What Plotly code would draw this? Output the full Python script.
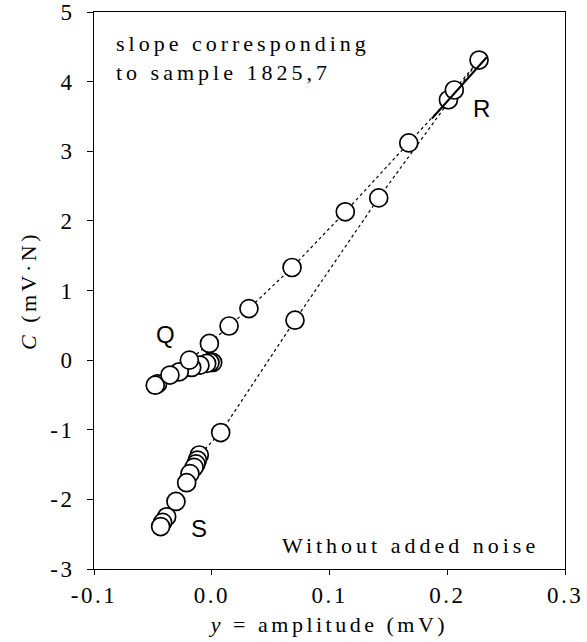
import plotly.graph_objects as go

# time-ordered QRS loop points (x = amplitude mV, y = C mV·N)
amp = [0.0008, -0.0015, -0.0043, -0.010, -0.017, -0.0276, -0.046, -0.048,
       -0.0355, -0.019, -0.002, 0.0147, 0.0316, 0.0682, 0.1134, 0.1673,
       0.201, 0.206, 0.227,
       0.1418, 0.0707, 0.0076, -0.0106, -0.0122, -0.0134, -0.015, -0.0185,
       -0.0213, -0.0304, -0.0383, -0.0417, -0.0434]
cval = [-0.033, -0.033, -0.047, -0.072, -0.105, -0.168, -0.34, -0.36,
        -0.215, 0.0, 0.24, 0.49, 0.74, 1.33, 2.13, 3.12,
        3.74, 3.88, 4.31,
        2.33, 0.574, -1.04, -1.363, -1.435, -1.49, -1.54, -1.63,
        -1.76, -2.03, -2.25, -2.33, -2.39]

slope_x = [0.187, 0.2335]
slope_y = [3.47, 4.35]

xtick_vals = [-0.1, 0.0, 0.1, 0.2, 0.3]
xtick_text = ["-0.1", "0.0", "0.1", "0.2", "0.3"]
ytick_vals = [-3, -2, -1, 0, 1, 2, 3, 4, 5]
ytick_text = ["-3", "-2", "-1", "0", "1", "2", "3", "4", "5"]

labels = ["Q", "R", "S"]
label_x = [-0.038, 0.231, -0.009]
label_y = [0.37, 3.61, -2.42]

serif = "Liberation Serif, Times New Roman, serif"
sans = "Liberation Sans, Arial, sans-serif"

fig = go.Figure()
fig.add_trace(go.Scatter(
    x=amp, y=cval, mode="lines+markers",
    line=dict(color="black", width=1.2, dash="dot"),
    marker=dict(symbol="circle", size=18, color="white",
                line=dict(color="black", width=1.7)),
    showlegend=False, hoverinfo="skip"))
fig.add_trace(go.Scatter(
    x=slope_x, y=slope_y, mode="lines",
    line=dict(color="black", width=2),
    showlegend=False, hoverinfo="skip"))

for t, lx, ly in zip(labels, label_x, label_y):
    fig.add_annotation(x=lx, y=ly, xref="x", yref="y", text=t, showarrow=False,
                       font=dict(family=sans, size=24, color="black"))

fig.add_annotation(x=0.042, y=0.917, xref="paper", yref="paper",
                   text="slope corresponding<br>to sample 1825,7",
                   showarrow=False, xanchor="left", yanchor="middle", align="left",
                   font=dict(family=serif, size=22, color="black"))
fig.add_annotation(x=0.673, y=0.043, xref="paper", yref="paper",
                   text="Without added noise", showarrow=False,
                   xanchor="center", yanchor="middle",
                   font=dict(family=serif, size=22, color="black"))

fig.update_layout(
    width=587, height=642,
    margin=dict(l=94, r=22, t=12, b=73),
    paper_bgcolor="white", plot_bgcolor="white",
    font=dict(family=serif, size=22, color="black"),
    xaxis=dict(range=[-0.1, 0.3], tickvals=xtick_vals, ticktext=xtick_text,
               ticks="outside", ticklen=5, tickcolor="black", automargin=False,
               ticklabeloverflow="allow",
               showgrid=False, zeroline=False, showline=True, linecolor="black",
               linewidth=1, mirror=True,
               tickfont=dict(family=serif, size=23, color="black"),
               title=dict(text="<i>y</i> = amplitude (mV)", standoff=10,
                          font=dict(family=serif, size=22, color="black"))),
    yaxis=dict(range=[-3, 5], tickvals=ytick_vals, ticktext=ytick_text,
               ticks="outside", ticklen=6, tickcolor="black", automargin=False,
               ticklabeloverflow="allow",
               showgrid=False, zeroline=False, showline=True, linecolor="black",
               linewidth=1, mirror=True, ticklabelstandoff=8,
               tickfont=dict(family=serif, size=23, color="black"),
               title=dict(text="<i>C</i> (mV·N)", standoff=12,
                          font=dict(family=serif, size=22, color="black"))),
)

spacing_js = """
var s = document.createElement('style');
s.innerHTML = 'body{margin:0;}' +
  ' .js-plotly-plot .xtick text, .js-plotly-plot .ytick text {letter-spacing:2.5px}' +
  ' .js-plotly-plot .g-xtitle text, .js-plotly-plot .g-ytitle text {letter-spacing:3.5px}' +
  ' .js-plotly-plot .annotation:nth-of-type(n+4) .annotation-text {letter-spacing:4px}';
document.head.appendChild(s);
"""

fig.write_html("out.html", post_script=spacing_js, config={"displayModeBar": False})
